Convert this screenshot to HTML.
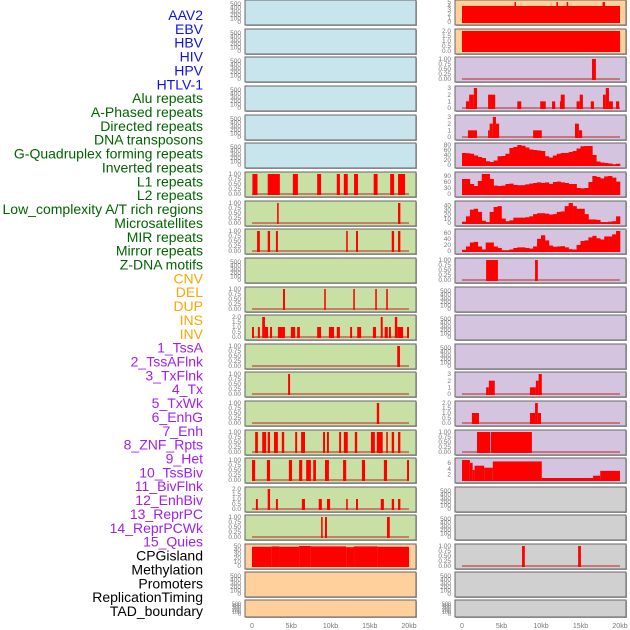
<!DOCTYPE html>
<html><head><meta charset="utf-8"><style>
html,body{margin:0;padding:0;background:#fff;width:630px;height:630px;overflow:hidden}
svg{display:block;font-family:"Liberation Sans",sans-serif}
</style></head><body>
<svg id="c" width="630" height="630" viewBox="0 0 630 630"></svg>
<script>
// ---- data ----
const trackLabels=["AAV2","EBV","HBV","HIV","HPV","HTLV-1","Alu repeats","A-Phased repeats","Directed repeats","DNA transposons","G-Quadruplex forming repeats","Inverted repeats","L1 repeats","L2 repeats","Low_complexity A/T rich regions","Microsatellites","MIR repeats","Mirror repeats","Z-DNA motifs","CNV","DEL","DUP","INS","INV","1_TssA","2_TssAFlnk","3_TxFlnk","4_Tx","5_TxWk","6_EnhG","7_Enh","8_ZNF_Rpts","9_Het","10_TssBiv","11_BivFlnk","12_EnhBiv","13_ReprPC","14_ReprPCWk","15_Quies","CPGisland","Methylation","Promoters","ReplicationTiming","TAD_boundary"];
const labelGroups=[6,13,5,15,5];
const xTickLabels=["0","5kb","10kb","15kb","20kb"];
const xTickValues=[0,5,10,15,20];
// left column segments [startKb,endKb,value]
const L7=[[0.05,0.7,1],[2.0,3.55,1],[5.2,5.85,1],[8.3,8.8,1],[10.8,11.2,1],[11.7,12.2,1],[13.0,13.5,1],[15.5,16.0,1],[17.6,18.1,1],[18.6,19.5,1]];
const L8=[[3.2,3.4,1],[18.6,18.9,1]];
const L9=[[0.65,1.0,1],[2.0,2.3,1],[3.05,3.3,1],[12.0,12.2,1],[13.25,13.5,1],[17.8,18.1,1],[18.6,18.9,1]];
const L11=[[3.95,4.2,1],[9.2,9.4,1],[12.9,13.1,1],[15.7,15.9,1],[17.1,17.3,1]];
const L12=[[0,0.25,1],[0.75,1.0,1],[1.3,1.65,2],[1.65,2.05,1],[2.3,2.55,1],[3.3,4.2,1],[4.95,5.5,1],[5.75,6.1,1],[8.3,8.8,1],[9.8,10.45,1],[10.8,11.2,1],[12.5,12.75,1],[13.4,13.9,1],[15.4,15.8,1],[16.4,16.65,2],[16.9,17.3,1],[17.45,17.7,1],[18.2,18.5,2],[18.5,19.25,1],[19.75,20,1]];
const L13=[[18.5,18.85,1]];
const L14=[[4.6,4.85,1]];
const L15=[[15.9,16.2,1]];
const L16=[[0.4,0.75,1],[1.3,1.8,1],[2.0,2.3,1],[2.8,3.3,1],[3.8,4.1,1],[5.5,5.75,1],[6.25,6.75,1],[9.05,9.3,1],[9.55,9.8,1],[11.1,11.35,1],[11.7,12.2,1],[13.1,13.4,1],[15.15,15.65,1],[15.9,16.65,1],[17.1,17.3,1],[17.8,18.1,1],[18.6,18.9,1]];
const L17=[[0,0.4,1],[1.9,2.3,1],[4.7,5.1,1],[6.0,6.4,1],[6.9,7.5,1],[7.8,8.15,1],[9.3,9.8,1],[11.6,12.0,1],[14.0,14.4,1],[16.8,17.2,1],[19.75,20,1]];
const L18=[[0.5,0.75,1],[2.0,2.3,2],[3.05,3.3,1],[6.35,6.75,1],[8.5,8.9,1],[9.55,9.95,1],[12.0,12.2,1],[13.25,13.5,1],[16.4,16.8,1],[17.8,18.1,1],[18.6,18.9,1]];
const L19=[[8.8,9.0,1],[9.3,9.55,1],[17.2,17.55,1]];
const L20=[[0,2.5,48],[2.5,3.5,49],[3.5,6,48],[6,7.5,50],[7.5,12,49],[12,13,47],[13,16,49],[16,20,48]];
// right column
const R1=[[0,20,4],[6.65,6.8,5],[11.95,12.1,5],[13.25,13.4,5],[17.8,18.1,5]];
const R2=[[0,20,2]];
const R3=[[16.45,16.95,1]];
const R4=[[0.5,0.9,1],[0.9,1.5,2],[1.5,1.9,3],[3.3,4.2,2],[7.0,7.5,1],[9.9,10.6,1],[11.4,11.8,1],[12.4,12.5,1],[12.5,13.0,2],[14.5,14.9,1],[14.9,15.3,2],[16.3,16.7,1],[17.85,18.2,2],[18.2,18.6,3],[18.6,19.1,1],[19.5,19.9,1]];
const R5=[[0.75,1.9,1],[3.3,3.5,1],[3.5,3.9,2],[3.9,4.3,3],[4.3,4.7,2],[9.0,10.1,1],[14.3,14.8,2],[14.8,15.2,1]];
const R6bins=[48,47,45,38,32,28,15,12,18,35,36,45,68,72,80,77,70,62,60,58,56,35,30,38,45,48,48,52,56,66,75,76,76,40,14,10,8,6,2,5];
const R7bins=[75,75,50,40,65,100,100,75,42,40,42,50,52,45,44,44,48,52,55,58,55,58,50,60,62,58,55,50,50,30,28,30,60,90,85,78,88,90,82,62];
const R8bins=[3,15,30,32,25,5,2,25,36,38,10,4,6,12,12,12,13,15,20,22,22,21,19,20,25,26,38,45,38,32,32,20,8,8,7,2,2,3,4,15];
const R9bins=[4,15,28,30,15,5,28,28,15,10,2,2,5,10,12,12,10,8,15,40,52,35,18,14,15,16,12,6,5,20,33,35,45,50,42,38,48,48,55,66];
const R10=[[3.05,4.55,1],[9.25,9.6,1]];
const R14=[[3.05,3.4,1],[3.4,4.15,2],[8.6,9.35,1],[9.35,9.7,2],[9.7,10.1,3]];
const R15=[[1.25,2.15,1],[8.6,9.25,1],[9.25,9.6,2],[9.6,10.0,1]];
const R16=[[1.9,3.55,1],[3.65,8.85,1]];
const R17=[[0,1.0,7],[1.0,1.35,6],[1.35,1.6,3.5],[1.6,2.8,5],[2.8,3.9,4.3],[3.9,10.1,6.5],[10.1,16.6,0.7],[16.6,17.5,1.5],[17.5,20,3.2]];
const R20=[[7.6,7.95,1],[14.7,15.05,1]];
</script>
<script>
const NS="http://www.w3.org/2000/svg";
const svg=document.getElementById('c');
function mk(tag,attrs,parent){const e=document.createElementNS(NS,tag);for(const k in attrs)e.setAttribute(k,attrs[k]);(parent||svg).appendChild(e);return e;}
const tops=[0,29,57,86,115,143,172,201,229,258,287,315,344,372,401,430,458,487,515,544,572,600];
const COL={blue:"#c8e4ec",green:"#c8e0a4",orange:"#ffd09c",purple:"#d4c4e0",gray:"#d0d0d0"};
const leftBg=i=>i<6?COL.blue:(i<19?COL.green:COL.orange);
const rightBg=i=>i<2?COL.orange:(i<17?COL.purple:COL.gray);
const cols=[{x:245,w:171,x0:252,x1:409,tx:241},{x:455,w:171,x0:462,x1:620,tx:451}];
const T1=[[1,"1.00"],[0.75,"0.75"],[0.5,"0.50"],[0.25,"0.25"],[0,"0.00"]];
const T2=[[2,"2.0"],[1.5,"1.5"],[1,"1.0"],[0.5,"0.5"],[0,"0.0"]];
const T3=[[3,"3"],[2,"2"],[1,"1"],[0,"0"]];
const T500=[[500,"500"],[400,"400"],[300,"300"],[200,"200"],[100,"100"],[0,"0"]];
const leftSpec={6:[L7,1,T1],7:[L8,1,T1],8:[L9,1,T1],10:[L11,1,T1],11:[L12,2,T2],12:[L13,1,T1],13:[L14,1,T1],14:[L15,1,T1],15:[L16,1,T1],16:[L17,1,T1],17:[L18,2,T2],18:[L19,1,T1],19:[L20,50,[[50,"50"],[40,"40"],[30,"30"],[20,"20"],[10,"10"],[0,"0"]]]};
const rightSpec={0:[R1,5,[[5,"5"],[4,"4"],[3,"3"],[2,"2"],[1,"1"],[0,"0"]]],1:[R2,2,T2],2:[R3,1,T1],3:[R4,3,T3],4:[R5,3,T3],
5:[R6bins,80,[[80,"80"],[60,"60"],[40,"40"],[20,"20"],[0,"0"]],1],6:[R7bins,100,[[90,"90"],[60,"60"],[30,"30"],[0,"0"]],1],
7:[R8bins,45,[[40,"40"],[30,"30"],[20,"20"],[10,"10"],[0,"0"]],1],8:[R9bins,66,[[60,"60"],[40,"40"],[20,"20"],[0,"0"]],1],
9:[R10,1,T1],13:[R14,3,T3],14:[R15,2,T2],15:[R16,1,T1],16:[R17,7,[[6,"6"],[4,"4"],[2,"2"]]],19:[R20,1,T1]};
function drawPanel(c,i,bg,spec,side){
  const T=tops[i],H=(i===21?17:25),B=T+H;
  const g=mk('g',{});
  
  
  mk('rect',{x:c.x+1,y:T+1,width:c.w,height:H,fill:'#aaa'},g);
  mk('rect',{x:c.x,y:T,width:c.w,height:H,fill:bg,stroke:'#666','stroke-width':1},g);
  const yb=B-3,yt=T+2;
  const xs=kb=>c.x0+(c.x1-c.x0)*kb/20;
  let ymax=550,ticks=T500,data=null,prof=0;
  if(spec){data=spec[0];ymax=spec[1];ticks=spec[2];prof=spec[3]||0;}
  const ys=v=>yb-(yb-yt)*v/ymax;
  ticks.forEach(t=>{const tx=mk('text',{x:c.tx,y:ys(t[0])+2.2,'font-size':(i===21?5.5:6.5),fill:'#777','text-anchor':'end'},g);tx.textContent=t[1];});
  if(!data)return;
  mk('line',{x1:xs(0),x2:xs(20),y1:yb,y2:yb,stroke:'#c04040','stroke-width':2,opacity:0.6},g);
  if(prof){
    const n=data.length,w=20/n;
    data.forEach((v,k)=>{const r=mk('rect',{x:xs(k*w),y:ys(v),width:xs((k+1)*w)-xs(k*w)+0.3,height:yb-ys(v)+1,fill:'#ff0000'},g);
      
      });
  }else{
    data.forEach(s=>{const r=mk('rect',{x:xs(s[0]),y:ys(s[2]),width:Math.max(1.5,xs(s[1])-xs(s[0])),height:yb-ys(s[2])+1,fill:'#ff0000'},g);
      
      });
  }
}
for(let i=0;i<22;i++){drawPanel(cols[0],i,leftBg(i),leftSpec[i],'left');drawPanel(cols[1],i,rightBg(i),rightSpec[i],'right');}
cols.forEach((c,ci)=>{xTickValues.forEach((v,k)=>{const t=mk('text',{x:c.x0+(c.x1-c.x0)*v/20,y:628,'font-size':7,fill:'#777','text-anchor':'middle'});
  
  
  t.textContent=xTickLabels[k];});});
const gcols=["#1010ee","#006400","#ffa500","#a020f0","#000"];
let idx=0;
labelGroups.forEach((n,gi)=>{for(let j=0;j<n;j++){const t=mk('text',{x:203,y:15+idx*13.86+5,'font-size':14,fill:gcols[gi],'text-anchor':'end'});
  
  
  t.textContent=trackLabels[idx];idx++;}});
</script>
</body></html>
